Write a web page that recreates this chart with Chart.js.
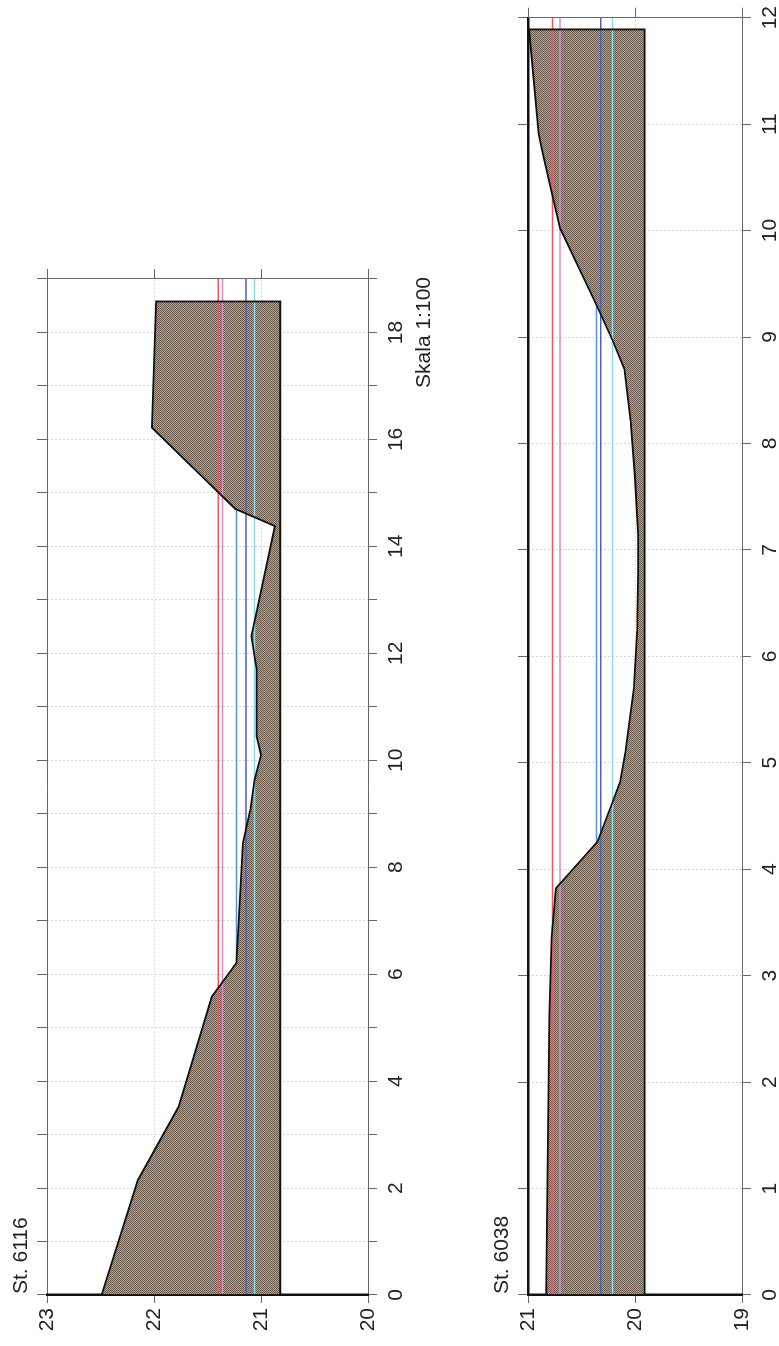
<!DOCTYPE html>
<html>
<head>
<meta charset="utf-8">
<script src="https://cdn.jsdelivr.net/npm/chart.js@4.4.1/dist/chart.umd.min.js"></script>
<style>
html,body{margin:0;padding:0;background:#fff;overflow:hidden;width:779px;height:1346px;}
#land{position:absolute;left:0;top:0;width:1346px;height:779px;transform-origin:0 0;transform:translate(0px,1346px) rotate(-90deg);background:#fff;}
#c1{position:absolute;left:0;top:0;}
#c2{position:absolute;left:0;top:470px;}
</style>
</head>
<body>
<div id="land">
<canvas id="c1" width="1346" height="470"></canvas>
<canvas id="c2" width="1346" height="309"></canvas>
</div>
<script>
// ---- data: station 6116 ----
const station6116 = 'St. 6116';
const scale6116 = 'Skala 1:100';
const dist6116 = [0, 2.15, 3.52, 5.58, 6.21, 6.96, 8.45, 9.08, 9.64, 10.10, 10.45, 11.70, 12.32, 14.38, 14.70, 16.22, 18.58];
const elev6116 = [22.49, 22.15, 21.77, 21.46, 21.23, 21.21, 21.17, 21.10, 21.06, 21.00, 21.04, 21.04, 21.09, 20.87, 21.24, 22.02, 21.98];
const base6116 = 20.82;
const levels6116 = [21.40, 21.36, 21.23, 21.14, 21.06];
const levelFrom6116 = [0, 0, 6.21, 0, 0];
const levelTo6116 = [19, 19, 14.70, 19, 19];
const xTicks6116 = [0, 19];
const yTicks6116 = [20, 23];

// ---- data: station 6038 ----
const station6038 = 'St. 6038';
const dist6038 = [0, 2.64, 3.36, 3.82, 4.26, 4.63, 4.82, 5.10, 5.70, 6.24, 6.78, 7.14, 7.68, 8.21, 8.70, 8.97, 9.30, 10.02, 10.28, 10.72, 10.91, 11.89];
const elev6038 = [20.83, 20.80, 20.78, 20.74, 20.35, 20.21, 20.14, 20.09, 20.01, 19.98, 19.97, 19.97, 20.00, 20.04, 20.10, 20.21, 20.36, 20.70, 20.76, 20.86, 20.90, 20.99];
const base6038 = 19.91;
const levels6038 = [20.77, 20.70, 20.36, 20.32, 20.21];
const levelFrom6038 = [0, 0, 4.26, 0, 0];
const levelTo6038 = [12, 12, 9.30, 12, 12];
const xTicks6038 = [0, 12];
const yTicks6038 = [19, 21];

// ---- styles ----
const levelColors = ['#ee5864', '#d48cc6', '#5a92d8', '#4d62aa', '#8ed8e2'];
const FONT = {family: '"Liberation Sans", Arial, sans-serif', size: 21};
const TEXT = '#222';
const AXIS = '#666';

function makePattern() {
  const p = document.createElement('canvas');
  p.width = 2; p.height = 2;
  const c = p.getContext('2d');
  c.fillStyle = '#c99a70'; c.fillRect(0, 0, 2, 2);
  c.fillStyle = '#6c5c50'; c.fillRect(1, 0, 1, 1); c.fillRect(0, 1, 1, 1);
  return p.getContext('2d').createPattern(p, 'repeat');
}
const fillPattern = makePattern();

const stationLabel = {
  id: 'stationLabel',
  afterDraw(chart, args, opts) {
    const {ctx, chartArea} = chart;
    ctx.save();
    ctx.font = FONT.size + 'px ' + FONT.family;
    ctx.fillStyle = TEXT;
    ctx.textAlign = 'left';
    ctx.textBaseline = 'alphabetic';
    ctx.fillText(opts.text, chartArea.left + 1, chartArea.top - 20);
    ctx.restore();
  }
};

function build(canvas, cfg) {
  const profile = cfg.dist.map((d, i) => ({x: d, y: cfg.elev[i]}));
  const last = cfg.dist.length - 1;
  const outline = profile.concat([
    {x: cfg.dist[last], y: cfg.base},
    {x: cfg.dist[0], y: cfg.base},
    {x: cfg.dist[0], y: cfg.elev[0]}
  ]);
  const datasets = [];
  datasets.push({data: outline, borderColor: '#111', borderWidth: 1.8, fill: false, order: 1});
  cfg.levels.forEach((v, i) => {
    datasets.push({
      data: [{x: cfg.from[i], y: v}, {x: cfg.to[i], y: v}],
      borderColor: levelColors[i], borderWidth: 1.5, fill: false, order: 2
    });
  });
  datasets.push({data: profile, borderWidth: 0, borderColor: 'rgba(0,0,0,0)', backgroundColor: fillPattern,
    fill: {value: cfg.base}, order: 3});

  const H = canvas.height;
  const grid = {color: '#d4d4d4', lineWidth: 1, tickColor: AXIS, tickWidth: 1, tickBorderDash: []};
  return new Chart(canvas, {
    type: 'line',
    data: {datasets},
    plugins: [stationLabel],
    options: {
      responsive: false,
      devicePixelRatio: 1,
      animation: false,
      events: [],
      layout: {padding: 0},
      elements: {point: {radius: 0}, line: {tension: 0}},
      plugins: {legend: {display: false}, tooltip: {enabled: false}, stationLabel: {text: cfg.label}},
      scales: {
        x: {
          type: 'linear', position: 'bottom', min: cfg.xRange[0], max: cfg.xRange[1],
          ticks: {stepSize: 1, autoSkip: false, maxRotation: 0, minRotation: 0, font: {...FONT, lineHeight: 1.3},
            color: TEXT, padding: 6, callback: cfg.xLabel},
          grid: {...grid, tickLength: 9},
          border: {color: AXIS, width: 1, dash: [2, 2]},
          afterFit: s => { s.height = H - cfg.area.bottom; }
        },
        xTop: {
          type: 'linear', position: 'top', min: cfg.xRange[0], max: cfg.xRange[1],
          ticks: {display: false, stepSize: 1, autoSkip: false},
          grid: {...grid, drawOnChartArea: false, tickLength: 10},
          border: {color: cfg.topBlack ? '#111' : AXIS, width: cfg.topBlack ? 2.5 : 1},
          afterFit: s => { s.height = cfg.area.top; }
        },
        y: {
          type: 'linear', position: 'left', min: cfg.yRange[0], max: cfg.yRange[1],
          ticks: {stepSize: 1, font: FONT, color: TEXT, padding: 5},
          grid: {...grid, tickLength: 8},
          border: {color: '#111', width: 2.5, dash: [2, 2]},
          afterFit: s => { s.width = cfg.area.left; }
        },
        yRight: {
          type: 'linear', position: 'right', min: cfg.yRange[0], max: cfg.yRange[1],
          ticks: {display: false, stepSize: 1},
          grid: {...grid, drawOnChartArea: false, tickLength: 10},
          border: {color: AXIS, width: 1},
          afterFit: s => { s.width = canvas.width - cfg.area.right; }
        }
      }
    }
  });
}

build(document.getElementById('c1'), {
  label: station6116, dist: dist6116, elev: elev6116, base: base6116,
  levels: levels6116, from: levelFrom6116, to: levelTo6116,
  xRange: xTicks6116, yRange: yTicks6116, topBlack: false,
  area: {left: 51, right: 1067, top: 47, bottom: 368},
  xLabel: v => (v % 2 !== 0 ? '' : (v === 18 ? [String(v), scale6116] : String(v)))
});

build(document.getElementById('c2'), {
  label: station6038, dist: dist6038, elev: elev6038, base: base6038,
  levels: levels6038, from: levelFrom6038, to: levelTo6038,
  xRange: xTicks6038, yRange: yTicks6038, topBlack: true,
  area: {left: 51, right: 1333, top: 58, bottom: 272},
  xLabel: v => String(v)
});
</script>
</body>
</html>
